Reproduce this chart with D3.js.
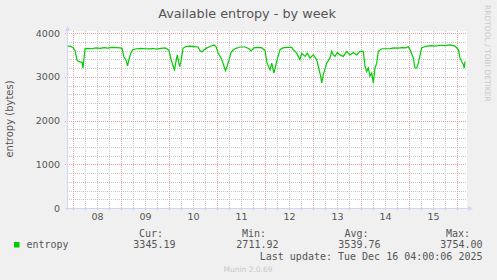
<!DOCTYPE html>
<html>
<head>
<meta charset="utf-8">
<script src="https://cdn.jsdelivr.net/npm/d3@7"></script>
<style>
  body { margin: 0; background: #f0f0f0; }
  svg { display: block; }
</style>
</head>
<body>
<div id="chart"></div>
<script>
/* DATA */
// hours after Dec 7 21:00
const hours = [0, 1.5, 3, 4, 5, 5.5, 6.5, 7.5, 8, 9, 10.5, 12.5, 14.5, 16.5, 18.5, 20.5, 22.5, 24.5, 26.5,
  27.5, 28.5, 29.5, 30.25, 31, 32, 33, 35, 37, 39, 41, 43, 45, 47, 49,
  50, 51, 52, 53, 53.75, 54.5, 55.15, 55.75, 56.35, 57, 58, 59.5, 61.5, 63.5, 65.5,
  66.5, 67.5, 68.5, 70, 71.5, 73.5, 74.5, 75.5, 76.5, 77.5, 78.5, 79.25, 80, 81, 82, 83, 84.5, 86.5, 89, 91, 92, 93.5, 95.5, 97.5,
  99, 99.85, 100.65, 101.5, 102.35, 103.5, 104.85, 106.5, 108, 110, 112.35, 113.15, 114.85, 116.5, 117.35, 119, 120.15, 121.5, 123.15, 124.85,
  125.65, 126.85, 127.35, 128.15, 129.85, 131.5, 132.35, 133.15, 134, 135.15, 136.5, 138.15, 139.85, 141.5, 143.15, 144.85, 146.5, 148.15,
  149, 149.85, 150.65, 151.5, 152.35, 153.15, 154, 154.85, 155.65, 157.5, 159.5, 161.5, 163.5, 165.5, 167.5, 169.5, 170.65, 171.5,
  173.15, 174, 174.85, 175.65, 177.35, 179, 181.5, 184, 186.5, 189, 191.5, 194, 195.65, 196.5, 197.35, 198.15, 198.65, 199];
const entropy = [3700, 3700, 3670, 3600, 3380, 3360, 3340, 3330, 3200, 3640, 3650, 3640, 3660, 3650, 3665, 3655, 3670, 3665, 3660,
  3650, 3450, 3380, 3250, 3400, 3550, 3620, 3640, 3650, 3640, 3635, 3645, 3630, 3650, 3660,
  3640, 3600, 3400, 3250, 3160, 3350, 3500, 3350, 3230, 3350, 3650, 3690, 3700, 3690, 3680,
  3600, 3565, 3620, 3660, 3690, 3725, 3690, 3550, 3470, 3380, 3240, 3140, 3230, 3380, 3550, 3610, 3650, 3680, 3680, 3640, 3590, 3660, 3670, 3660,
  3600, 3350, 3240, 3160, 3310, 3085, 3350, 3620, 3660, 3670, 3670, 3620, 3540, 3390, 3540, 3465, 3540, 3430, 3500, 3390,
  3240, 3010, 2860, 3050, 3310, 3430, 3580, 3500, 3465, 3555, 3500, 3465, 3580, 3500, 3555, 3500, 3580, 3580,
  3240, 3120, 3200, 3010, 3085, 2860, 3200, 3310, 3580, 3640, 3640, 3645, 3660, 3655, 3665, 3660, 3690, 3620,
  3430, 3200, 3200, 3310, 3660, 3690, 3710, 3700, 3720, 3710, 3730, 3700, 3620, 3430, 3350, 3280, 3200, 3350];
const yTicks = [0, 1000, 2000, 3000, 4000];
const legendLabels = ["Cur:", "Min:", "Avg:", "Max:"];
const legendValues = ["3345.19", "2711.92", "3539.76", "3754.00"];

/* CONSTANTS */
const width = 497, height = 280;
const plot = { left: 67, right: 467, top: 31, bottom: 208 };
const start = new Date(2025, 11, 7, 21, 0);
const end = d3.timeHour.offset(start, 200);
const font = "'DejaVu Sans', sans-serif";
const mono = "'DejaVu Sans Mono', monospace";

const svg = d3.select("#chart").append("svg")
  .attr("width", width)
  .attr("height", height)
  .style("background-color", "#f0f0f0");

/* SCALES */
const x = d3.scaleTime().domain([start, end]).range([plot.left, plot.right]);
const y = d3.scaleLinear().domain([0, 4000]).range([208, 33]);

const data = hours.map((h, i) => ({ t: new Date(start.getTime() + h * 3600e3), v: entropy[i] }));

// canvas
svg.append("rect")
  .attr("x", plot.left).attr("y", plot.top)
  .attr("width", plot.right - plot.left).attr("height", plot.bottom - plot.top)
  .attr("fill", "#ffffff");

/* GRID */
const minorY = d3.range(0, 4001, 200).filter(v => v % 1000 !== 0);
const minorX = d3.timeHour.every(6).range(start, end).filter(d => d.getHours() !== 0);
const days = d3.timeDay.range(start, end);

const grid = svg.append("g").attr("shape-rendering", "crispEdges");
grid.selectAll(".minor-y").data(minorY).join("line")
  .attr("x1", plot.left).attr("x2", plot.right)
  .attr("y1", d => Math.round(y(d)) + 0.5).attr("y2", d => Math.round(y(d)) + 0.5)
  .attr("stroke", "#c8c8c8").attr("stroke-dasharray", "1,1");
grid.selectAll(".minor-x").data(minorX).join("line")
  .attr("x1", d => Math.round(x(d)) + 0.5).attr("x2", d => Math.round(x(d)) + 0.5)
  .attr("y1", plot.top).attr("y2", plot.bottom + 2)
  .attr("stroke", "#c8c8c8").attr("stroke-dasharray", "1,1");
grid.selectAll(".major-y").data(yTicks.slice(1)).join("line")
  .attr("x1", plot.left - 2).attr("x2", plot.right)
  .attr("y1", d => Math.round(y(d)) + 0.5).attr("y2", d => Math.round(y(d)) + 0.5)
  .attr("stroke", "#f0a0a0").attr("stroke-dasharray", "1,1");
grid.selectAll(".major-x").data(days).join("line")
  .attr("x1", d => Math.round(x(d)) + 0.5).attr("x2", d => Math.round(x(d)) + 0.5)
  .attr("y1", plot.top).attr("y2", plot.bottom + 3)
  .attr("stroke", "#f0a0a0").attr("stroke-dasharray", "1,1");

/* LINE */
svg.append("path")
  .datum(data)
  .attr("fill", "none")
  .attr("stroke", "#00cc00")
  .attr("stroke-width", 1.2)
  .attr("d", d3.line().x(d => x(d.t)).y(d => y(d.v)));

/* AXES */
const axisColor = "#cfd6f8";
svg.append("line")
  .attr("x1", plot.left + 0.5).attr("x2", plot.left + 0.5)
  .attr("y1", plot.bottom + 2).attr("y2", 28)
  .attr("stroke", axisColor);
svg.append("path")
  .attr("d", `M${plot.left - 2},31 L${plot.left + 3},31 L${plot.left + 0.5},26 Z`)
  .attr("fill", axisColor);
svg.append("line")
  .attr("x1", plot.left - 2).attr("x2", 470)
  .attr("y1", plot.bottom + 0.5).attr("y2", plot.bottom + 0.5)
  .attr("stroke", axisColor);
svg.append("path")
  .attr("d", `M468,${plot.bottom - 2} L468,${plot.bottom + 3} L473,${plot.bottom + 0.5} Z`)
  .attr("fill", axisColor);

const yAxis = svg.append("g")
  .attr("transform", `translate(${plot.left - 2},0)`)
  .call(d3.axisLeft(y).tickValues(yTicks).tickSize(0).tickPadding(5).tickFormat(d3.format("d")));
yAxis.select(".domain").remove();
yAxis.selectAll("text")
  .attr("font-family", font).attr("font-size", "9.5px").attr("fill", "#555");

const noons = days.map(d => d3.timeHour.offset(d, 12)).filter(d => d < end);
const xAxis = svg.append("g")
  .attr("transform", `translate(0,${plot.bottom})`)
  .call(d3.axisBottom(x).tickValues(noons).tickSize(0).tickPadding(5).tickFormat(d3.timeFormat("%d")));
xAxis.select(".domain").remove();
xAxis.selectAll("text")
  .attr("font-family", font).attr("font-size", "9.5px").attr("fill", "#555");

/* TEXT */
svg.append("text")
  .attr("x", 247).attr("y", 18)
  .attr("text-anchor", "middle")
  .attr("font-family", font).attr("font-size", "12.8px").attr("fill", "#555")
  .text("Available entropy - by week");

svg.append("text")
  .attr("transform", "translate(13,119) rotate(-90)")
  .attr("text-anchor", "middle")
  .attr("font-family", font).attr("font-size", "10px").attr("fill", "#555")
  .text("entropy (bytes)");

svg.append("text")
  .attr("transform", "translate(485,5) rotate(90)")
  .attr("font-family", font).attr("font-size", "7.5px").attr("fill", "#c8c8c8")
  .text("RRDTOOL / TOBI OETIKER");

/* LEGEND */
svg.append("rect")
  .attr("x", 14).attr("y", 242).attr("width", 5.5).attr("height", 5.5)
  .attr("fill", "#00cc00");
svg.append("text")
  .attr("x", 26.5).attr("y", 248)
  .attr("font-family", mono).attr("font-size", "10px").attr("fill", "#555")
  .text("entropy");

const labelEnds = [163, 266, 368.5, 470];
const valueEnds = [175.5, 278.5, 380.5, 482.5];
svg.selectAll(".leg-label").data(legendLabels).join("text")
  .attr("x", (d, i) => labelEnds[i]).attr("y", 236.5)
  .attr("text-anchor", "end")
  .attr("font-family", mono).attr("font-size", "10px").attr("fill", "#555")
  .text(d => d);
svg.selectAll(".leg-value").data(legendValues).join("text")
  .attr("x", (d, i) => valueEnds[i]).attr("y", 248)
  .attr("text-anchor", "end")
  .attr("font-family", mono).attr("font-size", "10px").attr("fill", "#555")
  .text(d => d);

svg.append("text")
  .attr("x", 482.5).attr("y", 260)
  .attr("text-anchor", "end")
  .attr("font-family", mono).attr("font-size", "10px").attr("fill", "#555")
  .text("Last update: Tue Dec 16 04:00:06 2025");

svg.append("text")
  .attr("x", 248).attr("y", 272)
  .attr("text-anchor", "middle")
  .attr("font-family", font).attr("font-size", "7.5px").attr("fill", "#c8c8c8")
  .text("Munin 2.0.69");
</script>
</body>
</html>
